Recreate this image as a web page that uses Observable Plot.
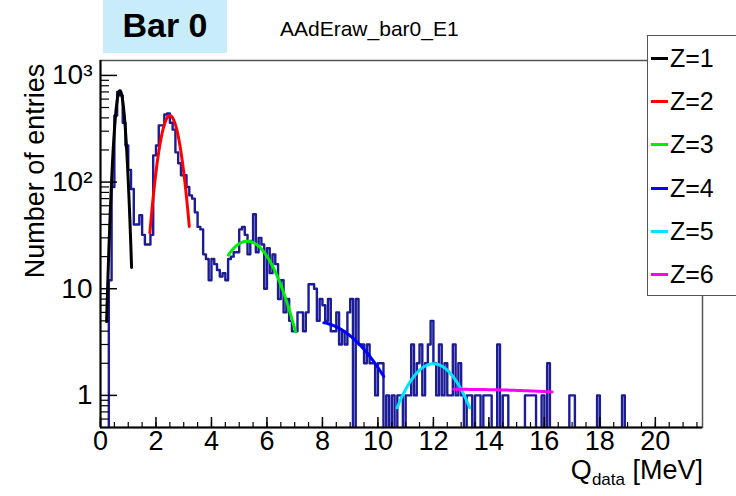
<!DOCTYPE html>
<html>
<head>
<meta charset="utf-8">
<script src="https://cdn.jsdelivr.net/npm/d3@7"></script>
<script src="https://cdn.jsdelivr.net/npm/@observablehq/plot@0.6"></script>
<style>
  body { margin: 0; background: #fff; }
  #wrap { position: relative; width: 736px; height: 496px; overflow: hidden; font-family: "Liberation Sans", Arial, sans-serif; }
  #wrap svg { position: absolute; left: 0; top: 0; }
  .ov { position: absolute; white-space: nowrap; color: #000; }
  #title { left: 103px; top: 0; width: 124px; height: 53px; background: #c9ecfa; font-weight: bold; font-size: 34px; text-align: center; line-height: 50px; }
  #subtitle { left: 280px; top: 17px; font-size: 21px; }
  #ytitle { left: 35px; top: 171px; font-size: 27px; transform: translate(-50%, -50%) rotate(-90deg); }
  #xtitle { right: 33px; top: 455px; font-size: 27px; line-height: 30px; }
  #xtitle sub { font-size: 17px; vertical-align: -6px; line-height: 0; }
  #legend { left: 647px; top: 35px; width: 110px; height: 259px; border: 1.5px solid #555; background: #fff; }
  .lrow { position: absolute; left: 0; height: 30px; }
  .lline { position: absolute; left: 3px; top: 14px; width: 17px; height: 3px; }
  .ltext { position: absolute; left: 22px; top: 0; font-size: 25px; line-height: 30px; }
</style>
</head>
<body>
<div id="wrap"></div>
<script>
// Histogram of Q_data, 0.1 MeV bins starting at 0
const binWidth = 0.1;
const counts = [
  0, 0, 0, 12, 90, 420, 700, 650, 360, 220,
  130, 86, 40, 40, 49, 32, 26, 26, 32, 178,
  220, 340, 340, 430, 440, 360, 310, 190, 150, 116,
  116, 90, 75, 70, 52, 38, 36, 21, 19, 12,
  19, 17, 15, 13, 14, 12, 19, 20, 22, 22,
  36, 38, 32, 21, 28, 50, 22, 30, 26, 10,
  24, 14, 21, 17, 8, 12, 6, 8, 5, 4,
  4, 6, 6, 4, 6, 11, 11, 10, 5, 8,
  7, 5, 8, 4, 4, 6, 3, 4, 3, 6,
  8, 0, 8, 3, 3, 2, 3, 2, 2, 1,
  2, 2, 0, 1, 0, 1, 0, 1, 1, 0,
  1, 1, 3, 1, 2, 3, 1, 2, 3, 5,
  2, 1, 3, 1, 2, 1, 1, 3, 1, 2,
  1, 0, 1, 1, 0, 1, 1, 0, 1, 1,
  1, 0, 0, 3, 0, 1, 1, 0, 0, 0,
  0, 0, 0, 1, 1, 1, 1, 0, 0, 1,
  0, 2, 0, 0, 0, 0, 0, 0, 0, 1,
  1, 0, 0, 0, 0, 0, 0, 0, 0, 1,
  0, 0, 0, 0, 0, 0, 0, 0, 1
];

// Gaussian fits per charge Z
const fitZ     = [1, 2, 3, 4, 5, 6];
const fitColor = ["#000000", "#ff0000", "#00ee00", "#0000ff", "#00e5ff", "#ff00ff"];
const fitAmp   = [720, 420, 27.9, 4.88, 1.98, 1.14];
const fitMean  = [0.70, 2.50, 5.29, 7.77, 12.0, 12.73];
const fitSigma = [0.152, 0.32, 0.88, 1.59, 0.95, 10.5];
const fitLo    = [0.22, 1.78, 4.61, 8.05, 10.69, 12.73];
const fitHi    = [1.12, 3.20, 7.03, 10.21, 13.31, 16.28];

// Axis ticks and labels
const xTicks = [0, 2, 4, 6, 8, 10, 12, 14, 16, 18, 20];
const xMinor = d3.range(0, 21.7, 0.5);
const yTicks = [1, 10, 100, 1000];
const yTickLabels = ["1", "10", "10\u00b2", "10\u00b3"];
const yMinor = [0.6, 0.7, 0.8, 0.9, 2, 3, 4, 5, 6, 7, 8, 9, 20, 30, 40, 50, 60, 70, 80, 90, 200, 300, 400, 500, 600, 700, 800, 900];

const W = 736, H = 496, mL = 100, mR = 34, mT = 60, mB = 69;
const pw = W - mL - mR, ph = H - mT - mB;
const tickFont = "'Liberation Sans Narrow', 'Liberation Sans', Arial, sans-serif";

// Step outline of the histogram; empty bins fall below the frame and are clipped
const below = 0.2;
const histPts = [{x: 0, y: below}];
counts.forEach((c, i) => {
  const v = c > 0 ? c : below;
  histPts.push({x: i * binWidth, y: v}, {x: (i + 1) * binWidth, y: v});
});
histPts.push({x: counts.length * binWidth, y: below}, {x: 21.7, y: below});

const fits = fitZ.map((z, k) => {
  const n = 80, pts = [];
  for (let j = 0; j <= n; j++) {
    const x = fitLo[k] + (fitHi[k] - fitLo[k]) * j / n;
    pts.push({x, y: fitAmp[k] * Math.exp(-0.5 * ((x - fitMean[k]) / fitSigma[k]) ** 2)});
  }
  return {z, color: fitColor[k], pts};
});

const chart = Plot.plot({
  width: W, height: H,
  marginLeft: mL, marginRight: mR, marginTop: mT, marginBottom: mB,
  x: {domain: [0, 21.7], axis: null},
  y: {type: "log", domain: [0.5, 1380], axis: null},
  marks: [
    Plot.line(histPts, {x: "x", y: "y", stroke: "#1c1c96", strokeWidth: 2.4, clip: true}),
    ...fits.map(f => Plot.line(f.pts, {x: "x", y: "y", stroke: f.color, strokeWidth: 3, clip: true})),
    Plot.frame({stroke: "#555", strokeWidth: 1.5}),
    Plot.ruleX([0], {stroke: "#000", strokeWidth: 2}),
    Plot.ruleY([0.5], {stroke: "#000", strokeWidth: 2}),
    Plot.tickX(xMinor, {x: d => d, insetTop: ph - 5, stroke: "#000", strokeWidth: 1.2}),
    Plot.tickX(xTicks, {x: d => d, insetTop: ph - 10, stroke: "#000", strokeWidth: 1.5}),
    Plot.tickY(yMinor, {y: d => d, insetRight: pw - 9, stroke: "#000", strokeWidth: 1.2}),
    Plot.tickY(yTicks, {y: d => d, insetRight: pw - 17, stroke: "#000", strokeWidth: 1.5}),
    Plot.text(xTicks, {x: d => d, frameAnchor: "bottom", lineAnchor: "top", dy: 3, text: d => String(d),
      fontSize: 27, fontFamily: tickFont, fill: "#000"}),
    Plot.text(yTicks, {y: d => d, frameAnchor: "left", textAnchor: "end", dx: -8, text: (d, i) => yTickLabels[i],
      fontSize: 28, fontFamily: tickFont, fill: "#000"})
  ]
});

const wrap = document.getElementById("wrap");
wrap.appendChild(chart);

function addDiv(id, html) {
  const d = document.createElement("div");
  d.id = id; d.className = "ov"; d.innerHTML = html;
  wrap.appendChild(d);
  return d;
}
addDiv("title", "Bar 0");
addDiv("subtitle", "AAdEraw_bar0_E1");
addDiv("ytitle", "Number of entries");
addDiv("xtitle", "Q<sub>data</sub> [MeV]");

const legend = addDiv("legend", "");
fitZ.forEach((z, k) => {
  const row = document.createElement("div");
  row.className = "lrow";
  row.style.top = (7 + k * 43.2) + "px";
  row.innerHTML = `<div class="lline" style="background:${fitColor[k]}"></div><div class="ltext">Z=${z}</div>`;
  legend.appendChild(row);
});
</script>
</body>
</html>
